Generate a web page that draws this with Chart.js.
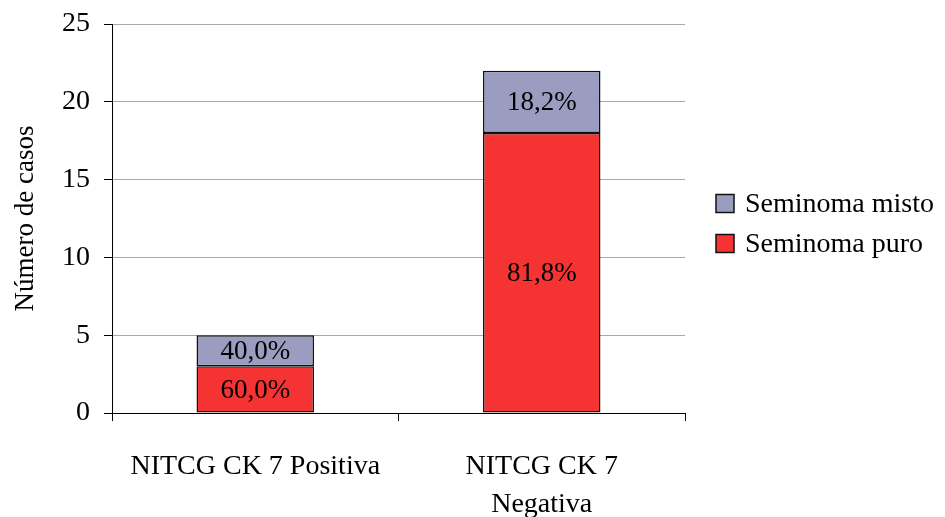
<!DOCTYPE html>
<html>
<head>
<meta charset="utf-8">
<script src="https://cdn.jsdelivr.net/npm/chart.js@4"></script>
<style>
  html, body { margin: 0; padding: 0; background: #fff; }
  #wrap { width: 945px; height: 517px; }
</style>
</head>
<body>
<div id="wrap"><canvas id="chart" width="945" height="517"></canvas></div>
<script>
const categories = [['NITCG CK 7 Positiva'], ['NITCG CK 7', 'Negativa']];
const puro = [3, 18];
const misto = [2, 4];
const yTicks = [0, 5, 10, 15, 20, 25];

const serif = "'Liberation Serif', 'Times New Roman', serif";

// percentage of each segment within its bar, written inside the segment
const segmentLabels = {
  id: 'segmentLabels',
  afterDatasetsDraw(chart) {
    const ctx = chart.ctx;
    ctx.save();
    ctx.font = '27px ' + serif;
    ctx.fillStyle = '#000';
    ctx.textAlign = 'center';
    ctx.textBaseline = 'middle';
    chart.data.datasets.forEach((ds, di) => {
      chart.getDatasetMeta(di).data.forEach((bar, i) => {
        const total = chart.data.datasets.reduce((s, d) => s + d.data[i], 0);
        const pct = (ds.data[i] / total * 100).toFixed(1).replace('.', ',') + '%';
        ctx.fillText(pct, bar.x, (bar.y + bar.base) / 2 + 1);
      });
    });
    ctx.restore();
  }
};

// legend on the right, series listed top-down as stacked (misto above puro)
const sideLegend = {
  id: 'sideLegend',
  afterDraw(chart) {
    const ctx = chart.ctx;
    const area = chart.chartArea;
    const mid = (area.top + area.bottom) / 2;
    const x = area.right + 31;
    const items = chart.data.datasets.slice().reverse();
    ctx.save();
    ctx.font = '28px ' + serif;
    ctx.textBaseline = 'middle';
    ctx.textAlign = 'left';
    items.forEach((ds, k) => {
      const cy = mid - 15 + k * 40;
      ctx.fillStyle = ds.backgroundColor;
      ctx.fillRect(x, cy - 9, 18, 18);
      ctx.lineWidth = 1.5;
      ctx.strokeStyle = '#111';
      ctx.strokeRect(x, cy - 9, 18, 18);
      ctx.fillStyle = '#000';
      ctx.fillText(ds.label, x + 29, cy + 1);
    });
    ctx.restore();
  }
};

new Chart(document.getElementById('chart'), {
  type: 'bar',
  data: {
    labels: categories,
    datasets: [
      {
        label: 'Seminoma puro',
        data: puro,
        backgroundColor: '#f53333',
        borderColor: '#111',
        borderWidth: 1.5,
        borderSkipped: false,
        categoryPercentage: 1,
        barPercentage: 0.41
      },
      {
        label: 'Seminoma misto',
        data: misto,
        backgroundColor: '#9a9dbf',
        borderColor: '#111',
        borderWidth: 1.5,
        borderSkipped: false,
        categoryPercentage: 1,
        barPercentage: 0.41
      }
    ]
  },
  options: {
    responsive: false,
    animation: false,
    layout: { padding: { top: 24, right: 260, left: 0, bottom: 0 } },
    plugins: {
      tooltip: { enabled: false },
      legend: { display: false }
    },
    scales: {
      x: {
        stacked: true,
        afterFit(axis) { axis.height = 104; },
        border: { color: '#000', width: 1 },
        grid: {
          offset: true,
          drawOnChartArea: false,
          drawTicks: true,
          tickLength: 8,
          tickColor: '#000'
        },
        ticks: {
          color: '#000',
          font: { family: serif, size: 28, lineHeight: 1.36 },
          padding: 27,
          maxRotation: 0
        }
      },
      y: {
        stacked: true,
        min: 0,
        max: 25,
        afterBuildTicks(axis) {
          axis.ticks = yTicks.map(v => ({ value: v }));
        },
        afterFit(axis) { axis.width = 112; },
        border: { color: '#000', width: 1 },
        grid: {
          color: '#a8a8a8',
          tickColor: '#000',
          tickLength: 8
        },
        ticks: {
          color: '#000',
          font: { family: serif, size: 28, lineHeight: 0.6 },
          padding: 14
        },
        title: {
          display: true,
          text: 'Número de casos',
          color: '#000',
          font: { family: serif, size: 27 },
          padding: { top: 10, bottom: 0 }
        }
      }
    }
  },
  plugins: [segmentLabels, sideLegend]
});
</script>
</body>
</html>
